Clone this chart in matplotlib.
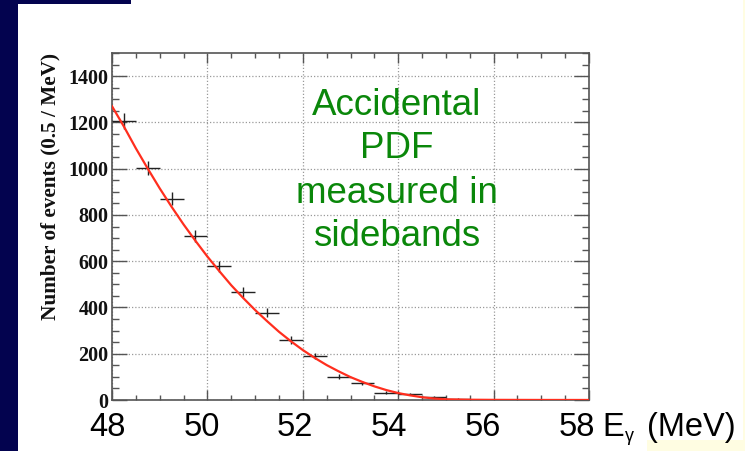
import numpy as np
import matplotlib
matplotlib.use("Agg")
import matplotlib.pyplot as plt
from matplotlib.patches import Rectangle

# Sideband histogram: bin centres (MeV) and counts per 0.5 MeV bin
bin_centres = [48.25, 48.75, 49.25, 49.75, 50.25, 50.75, 51.25, 51.75,
               52.25, 52.75, 53.25, 53.75, 54.25, 54.75, 55.25, 55.75]
counts = [1205, 1003, 871, 710, 578, 468, 377, 259,
          190, 101, 75, 32, 25, 12, 5, 2]
bin_half_width = 0.25

# Fitted accidental PDF, sampled along E_gamma
fit_x = [48.00, 48.25, 48.50, 48.75, 49.00, 49.25, 49.50, 49.75, 50.00,
         50.25, 50.50, 50.75, 51.00, 51.25, 51.50, 51.75, 52.00, 52.25,
         52.50, 52.75, 53.00, 53.25, 53.50, 53.75, 54.00, 54.25, 54.50,
         54.75, 55.00, 55.50, 56.00, 57.00, 58.00]
fit_y = [1270, 1182, 1088, 1000, 915, 835, 759, 688, 620,
         557, 496, 441, 389, 341, 295, 254, 216, 182,
         151, 124, 99, 78, 59, 43, 30, 20, 12,
         6.5, 3, 1.2, 0.6, 0.2, 0.1]

x_ticks = [48, 50, 52, 54, 56, 58]
x_tick_labels = ["48", "50", "52", "54", "56", "58"]
y_ticks = [0, 200, 400, 600, 800, 1000, 1200, 1400]
y_title = "Number of events (0.5 / MeV)"
note_lines = ["Accidental", "PDF", "measured in", "sidebands"]

W, H = 745, 451
fig = plt.figure(figsize=(W / 100, H / 100), dpi=100)
fig.patch.set_facecolor("white")

def fx(px):
    return px / W

def fy(py):
    return 1 - py / H

# slide decoration
navy = "#03034f"
pale = "#fffde2"
fig.patches.append(Rectangle((0, 0), fx(18), 1, transform=fig.transFigure,
                             facecolor=navy, edgecolor="none", zorder=0))
fig.patches.append(Rectangle((0, fy(4)), fx(131), 1 - fy(4), transform=fig.transFigure,
                             facecolor=navy, edgecolor="none", zorder=0))
fig.patches.append(Rectangle((fx(743), 0), fx(2), 1, transform=fig.transFigure,
                             facecolor=pale, edgecolor="none", zorder=0))
fig.patches.append(Rectangle((fx(647), 0), fx(98), fy(440), transform=fig.transFigure,
                             facecolor=pale, edgecolor="none", zorder=0))

# main plot frame
ax = fig.add_axes([fx(112), fy(400), fx(589) - fx(112), fy(53) - fy(400)])
ax.set_xlim(48, 58)
ax.set_ylim(0, 1500)

frame_col = "#555555"
for s in ax.spines.values():
    s.set_color(frame_col)
    s.set_linewidth(1.2)

ax.set_xticks(x_ticks)
ax.set_xticks(np.arange(48, 58.01, 0.5), minor=True)
ax.set_yticks(y_ticks)
ax.set_yticks(np.arange(0, 1500.1, 50), minor=True)
ax.tick_params(axis="x", which="major", direction="in", length=7.5, width=1.0,
               color=frame_col, top=True, bottom=True, labelbottom=False)
ax.tick_params(axis="x", which="minor", direction="in", length=3.8, width=1.0,
               color=frame_col, top=True, bottom=True)
ax.tick_params(axis="y", which="major", direction="in", length=10.5, width=1.0,
               color=frame_col, left=True, right=True, pad=2.5)
ax.tick_params(axis="y", which="minor", direction="in", length=5.2, width=1.0,
               color=frame_col, left=True, right=True)
for lab in ax.get_yticklabels():
    lab.set_fontfamily("Liberation Serif")
    lab.set_fontweight("bold")
    lab.set_fontsize(14.5)
    lab.set_color("#111111")

ax.grid(True, which="major", color="#9a9a9a", linestyle=(0, (1, 1.6)), linewidth=0.9)
ax.set_axisbelow(True)

ax.set_ylabel(y_title, loc="top", fontfamily="Liberation Serif", fontweight="bold",
              fontsize=15.3, color="#111111", labelpad=6)

# data points with bin-width and sqrt(N) error bars
ax.errorbar(bin_centres, counts, xerr=bin_half_width, yerr=np.sqrt(counts),
            fmt="none", ecolor="#222222", elinewidth=1.0, capsize=0, zorder=3)
# fitted curve
ax.plot(fit_x, fit_y, color="#ff2e1e", linewidth=1.6, zorder=4, clip_on=True)

# slide-style axis numbers
axl = fig.add_axes([fx(107.5), fy(400), fx(577) - fx(107.5), 0.0001])
axl.set_xlim(48, 58)
axl.set_xticks(x_ticks)
axl.set_xticklabels(x_tick_labels, fontfamily="Liberation Sans", fontsize=23.5)
axl.tick_params(axis="x", length=0, pad=9)
axl.set_yticks([])
for s in axl.spines.values():
    s.set_visible(False)
axl.patch.set_visible(False)

# axis quantity next to the last number
base_y = fy(436)
fig.text(fx(602), base_y, "E", fontfamily="Liberation Sans", fontsize=23.5,
         va="baseline", ha="left")
fig.text(fx(625), fy(441), "γ", fontfamily="Liberation Sans", fontsize=13,
         va="baseline", ha="left")
fig.text(fx(647), base_y, "(MeV)", fontfamily="Liberation Sans", fontsize=23.5,
         va="baseline", ha="left")

# annotation
for line, by in zip(note_lines, [115, 158.5, 203, 246.5]):
    fig.text(fx(397), fy(by), line, fontfamily="Liberation Sans", fontsize=26.5,
             color="#0a870a", ha="center", va="baseline")

fig.savefig("out.png", dpi=100)
